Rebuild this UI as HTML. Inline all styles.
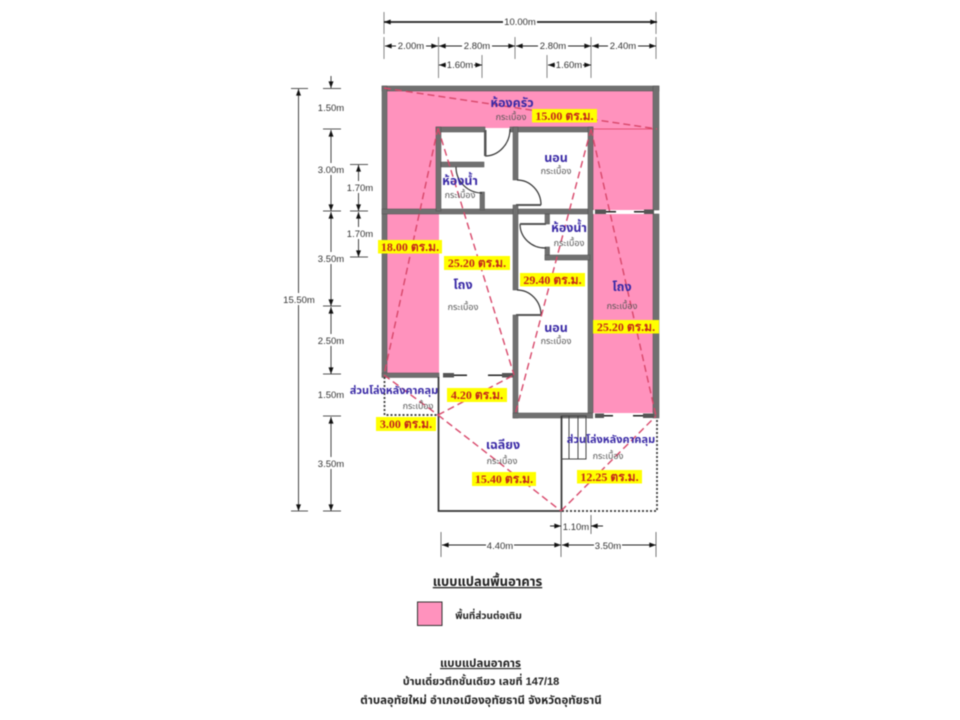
<!DOCTYPE html>
<html lang="th"><head><meta charset="utf-8"><title>แบบแปลนอาคาร</title>
<style>
html,body{margin:0;padding:0;background:#fff}
svg{display:block;filter:blur(.45px)}
text{font-family:"Liberation Sans","Noto Sans Thai","Noto Sans CJK SC",sans-serif;text-anchor:middle}
.d{font-size:9.5px;fill:#333}
.r{font-size:12.5px;font-weight:bold;fill:#3a2aa6}
.t{font-size:9px;fill:#555}
.y{font-family:"Liberation Serif","Noto Serif CJK SC",serif;font-size:12px;font-weight:bold;fill:#c4261a}
.k{font-size:10.5px;font-weight:bold;fill:#222}
</style></head><body>
<svg width="960" height="720" viewBox="0 0 960 720" xmlns="http://www.w3.org/2000/svg">
<defs>
<marker id="a" viewBox="0 0 8 6" refX="8" refY="3" markerWidth="7" markerHeight="5" orient="auto-start-reverse" markerUnits="userSpaceOnUse"><path d="M0 0L8 3L0 6z" fill="#111"/></marker>
</defs>
<rect width="960" height="720" fill="#fff"/>

<!-- pink areas -->
<g fill="#ff92bd">
<rect x="387" y="91" width="266" height="37"/>
<rect x="387" y="91" width="52" height="283"/>
<rect x="590" y="91" width="63" height="323"/>
</g>

<!-- walls -->
<g fill="#707070" stroke="#4f4f4f" stroke-width=".5">
<rect x="382" y="86" width="277" height="5"/>
<rect x="382" y="86" width="5" height="291"/>
<rect x="653" y="86" width="6" height="124"/>
<rect x="653" y="214" width="6" height="204"/>
<rect x="382" y="209" width="211" height="5"/>
<rect x="382" y="373" width="57" height="4.500"/>
<rect x="436" y="127" width="49" height="5"/>
<rect x="510" y="127" width="83" height="5"/>
<rect x="436" y="127" width="5" height="84"/>
<rect x="513" y="127" width="5" height="53"/>
<rect x="513" y="205" width="5" height="85"/>
<rect x="513" y="315" width="5" height="103"/>
<rect x="588" y="127" width="5" height="291"/>
<rect x="441" y="162" width="43" height="5"/>
<rect x="480" y="192" width="4.500" height="18"/>
<rect x="545" y="214" width="4.500" height="10"/>
<rect x="545" y="247" width="4.500" height="13"/>
<rect x="545" y="255" width="45" height="5"/>
<rect x="513" y="413" width="80" height="5"/>
</g>

<!-- windows -->
<g>
<rect x="593" y="210" width="60" height="4" fill="#fff"/>
<rect x="595" y="209.500" width="11" height="4.500" fill="#555"/><rect x="606" y="211" width="10" height="1.500" fill="#222"/>
<rect x="634" y="211" width="10" height="1.500" fill="#222"/><rect x="644" y="209.500" width="10" height="4.500" fill="#555"/>
<rect x="593" y="413" width="60" height="5" fill="#fff"/>
<rect x="595" y="413.500" width="9" height="4.500" fill="#555"/><rect x="604" y="415" width="9" height="1.500" fill="#222"/>
<rect x="633" y="415" width="10" height="1.500" fill="#222"/><rect x="643" y="413.500" width="11" height="4.500" fill="#555"/>
<rect x="443" y="373" width="11" height="4.500" fill="#555"/><rect x="454" y="374.500" width="13" height="1.500" fill="#222"/>
<rect x="488" y="374.500" width="14" height="1.500" fill="#222"/><rect x="502" y="373" width="11" height="4.500" fill="#555"/>
</g>

<!-- doors -->
<g fill="none" stroke="#333" stroke-width="1.200">
<path d="M510 129A25 27 0 0 1 485 156"/>
<path d="M517 180A24 25 0 0 1 541 205"/>
<path d="M456 167A26 26 0 0 0 482 193"/>
<path d="M520 224A25 24 0 0 0 546 248"/>
<path d="M517 290A24 25 0 0 1 541 315"/>
</g>
<g fill="#555">
<rect x="484" y="130" width="2.500" height="26"/>
<rect x="516" y="204" width="25" height="2"/>
<rect x="520" y="223" width="26" height="2"/>
<rect x="516" y="314" width="25" height="2"/>
</g>

<!-- porch lines -->
<g fill="none" stroke="#333" stroke-width="1.700">
<path d="M438.500 377V511H561.500V416"/>
</g>
<g fill="none" stroke="#333" stroke-width="1.700" stroke-dasharray="2 2">
<path d="M384.500 377V415H438"/>
<path d="M562 511H657V418"/>
</g>
<g fill="none" stroke="#444" stroke-width="1">
<path d="M561 416H586V459H561M569 416V459M578 416V459"/>
</g>

<!-- red dashed -->
<g fill="none" stroke="#d8476a" stroke-width="1.400" stroke-dasharray="7 4">
<path d="M384 88L657 129"/>
<path d="M438 128L384 375"/>
<path d="M438 128L514 375"/>
<path d="M591 129L515 415"/>
<path d="M591 129L656 416"/>
<path d="M438 415L514 375"/>
<path d="M384 375L438 415"/>
<path d="M438 415L561 511"/>
<path d="M561 511L656 416"/>
</g>
<path d="M593 129H653" stroke="#dd3a5c" stroke-width=".7"/>

<!-- dimensions top -->
<g stroke="#888" stroke-width="1">
<path d="M384 12V34M656 12V34"/>
<path d="M384 37V59M438.500 37V78M515 37V59M591 37V78M656 37V59"/>
<path d="M482 55V78M547 55V78"/>
</g>
<g stroke="#222" fill="none">
<path d="M384 22H657" stroke-width="1.800" marker-start="url(#a)" marker-end="url(#a)"/>
<path d="M385 46H438" marker-start="url(#a)" marker-end="url(#a)"/>
<path d="M439 46H515" marker-start="url(#a)" marker-end="url(#a)"/>
<path d="M516 46H591" marker-start="url(#a)" marker-end="url(#a)"/>
<path d="M592 46H656" marker-start="url(#a)" marker-end="url(#a)"/>
<path d="M439 65H482" marker-start="url(#a)" marker-end="url(#a)"/>
<path d="M548 65H591" marker-start="url(#a)" marker-end="url(#a)"/>
</g>
<g fill="#fff">
<rect x="503" y="16" width="34" height="12"/>
<rect x="396" y="40" width="30" height="12"/>
<rect x="462" y="40" width="30" height="12"/>
<rect x="538" y="40" width="30" height="12"/>
<rect x="608" y="40" width="30" height="12"/>
<rect x="446" y="59" width="28" height="12"/>
<rect x="555" y="59" width="28" height="12"/>
</g>
<g class="d">
<text x="520" y="25" class="d">10.00m</text>
<text x="411" y="49" class="d">2.00m</text>
<text x="477" y="49" class="d">2.80m</text>
<text x="553" y="49" class="d">2.80m</text>
<text x="623" y="49" class="d">2.40m</text>
<text x="460" y="68" class="d">1.60m</text>
<text x="569" y="68" class="d">1.60m</text>
</g>

<!-- dimensions left -->
<g stroke="#555" stroke-width="1" fill="none">
<path d="M291 88.500H308M291 511H308"/>
<path d="M323 88.500H341M323 129H341M323 211H341M323 306H341M323 374H341M323 416H341M323 511H341"/>
<path d="M350 164.500H368M350 211H368M350 257H368"/>
</g>
<g stroke="#444" fill="none">
<path d="M298.500 89V511" stroke-width="1" marker-start="url(#a)" marker-end="url(#a)"/>
<path d="M331 76V88" marker-end="url(#a)"/>
<path d="M331 130V211" marker-start="url(#a)" marker-end="url(#a)"/>
<path d="M331 212V306" marker-start="url(#a)" marker-end="url(#a)"/>
<path d="M331 307V374" marker-start="url(#a)" marker-end="url(#a)"/>
<path d="M331 417V511" marker-start="url(#a)" marker-end="url(#a)"/>
<path d="M358.500 165V211" marker-start="url(#a)" marker-end="url(#a)"/>
<path d="M358.500 212V257" marker-start="url(#a)" marker-end="url(#a)"/>
</g>
<g fill="#fff">
<rect x="283" y="293" width="32" height="12"/>
<rect x="317" y="163" width="28" height="12"/>
<rect x="317" y="252" width="28" height="12"/>
<rect x="317" y="334" width="28" height="12"/>
<rect x="317" y="457" width="28" height="12"/>
<rect x="345" y="181" width="28" height="12"/>
<rect x="345" y="227" width="28" height="12"/>
</g>
<text x="299" y="303" class="d">15.50m</text>
<text x="331" y="111" class="d">1.50m</text>
<text x="331" y="173" class="d">3.00m</text>
<text x="331" y="262" class="d">3.50m</text>
<text x="331" y="344" class="d">2.50m</text>
<text x="331" y="398" class="d">1.50m</text>
<text x="331" y="467" class="d">3.50m</text>
<text x="360" y="191" class="d">1.70m</text>
<text x="360" y="237" class="d">1.70m</text>

<!-- dimensions bottom -->
<g stroke="#777" stroke-width="1" fill="none">
<path d="M441 532V557M561 511V557M656 532V557M591 515V534"/>
</g>
<g stroke="#222" fill="none">
<path d="M442 545H561" marker-start="url(#a)" marker-end="url(#a)"/>
<path d="M562 545H656" marker-start="url(#a)" marker-end="url(#a)"/>
<path d="M550 526H561" marker-end="url(#a)"/>
<path d="M603 526H591" marker-end="url(#a)"/>
</g>
<g fill="#fff">
<rect x="486" y="539" width="28" height="12"/>
<rect x="594" y="539" width="28" height="12"/>
</g>
<text x="500" y="549" class="d">4.40m</text>
<text x="608" y="549" class="d">3.50m</text>
<text x="576" y="530" class="d">1.10m</text>

<!-- room labels -->
<text x="512" y="107" class="r">ห้องครัว</text><text x="511" y="120" class="t">กระเบื้อง</text>
<text x="556" y="162" class="r">นอน</text><text x="556" y="174" class="t">กระเบื้อง</text>
<text x="460" y="185" class="r">ห้องน้ำ</text><text x="460" y="198" class="t">กระเบื้อง</text>
<text x="569" y="232" class="r">ห้องน้ำ</text><text x="569" y="246" class="t">กระเบื้อง</text>
<text x="463" y="289" class="r">โถง</text><text x="463" y="310" class="t">กระเบื้อง</text>
<text x="622" y="291" class="r">โถง</text><text x="622" y="309" class="t">กระเบื้อง</text>
<text x="556" y="332" class="r">นอน</text><text x="556" y="344" class="t">กระเบื้อง</text>
<text x="394" y="394" class="r" style="font-size:11px">ส่วนโล่งหลังคาคลุม</text><text x="418" y="409" class="t">กระเบื้อง</text>
<text x="503" y="449" class="r">เฉลียง</text><text x="502" y="464" class="t">กระเบื้อง</text>
<text x="611" y="443" class="r" style="font-size:11px">ส่วนโล่งหลังคาคลุม</text><text x="608" y="459" class="t">กระเบื้อง</text>

<!-- yellow tags -->
<g fill="#ffff00">
<rect x="532" y="109" width="65" height="13.500"/>
<rect x="378" y="240" width="64" height="13.500"/>
<rect x="444" y="256" width="66" height="14"/>
<rect x="520" y="273" width="65" height="13.500"/>
<rect x="593" y="320" width="66" height="13.500"/>
<rect x="447" y="388" width="60" height="14"/>
<rect x="376" y="417" width="60" height="14"/>
<rect x="472" y="472" width="64" height="14"/>
<rect x="577" y="470" width="65" height="13.500"/>
</g>
<text x="564.500" y="120" class="y">15.00 ตร.ม.</text>
<text x="410" y="251" class="y">18.00 ตร.ม.</text>
<text x="477" y="267" class="y">25.20 ตร.ม.</text>
<text x="552.500" y="284" class="y">29.40 ตร.ม.</text>
<text x="626" y="331" class="y">25.20 ตร.ม.</text>
<text x="477" y="399" class="y">4.20 ตร.ม.</text>
<text x="406" y="428" class="y">3.00 ตร.ม.</text>
<text x="504" y="483" class="y">15.40 ตร.ม.</text>
<text x="609.500" y="481" class="y">12.25 ตร.ม.</text>

<!-- footer -->
<text x="487.500" y="586" font-size="13" font-weight="bold" fill="#222" text-decoration="underline">แบบแปลนพื้นอาคาร</text>
<rect x="417.500" y="602" width="24.500" height="23.500" fill="#ff92bd" stroke="#333" stroke-width="1"/>
<text x="488.500" y="619" class="k" style="font-size:10px">พื้นที่ส่วนต่อเติม</text>
<text x="480.500" y="667" class="k" style="font-size:11.500px" text-decoration="underline">แบบแปลนอาคาร</text>
<text x="481" y="685" class="k" style="font-size:11px">บ้านเดี่ยวตึกชั้นเดียว เลขที่ 147/18</text>
<text x="481" y="704" class="k" style="font-size:11.500px">ตำบลอุทัยใหม่ อำเภอเมืองอุทัยธานี จังหวัดอุทัยธานี</text>
</svg>
</body></html>
